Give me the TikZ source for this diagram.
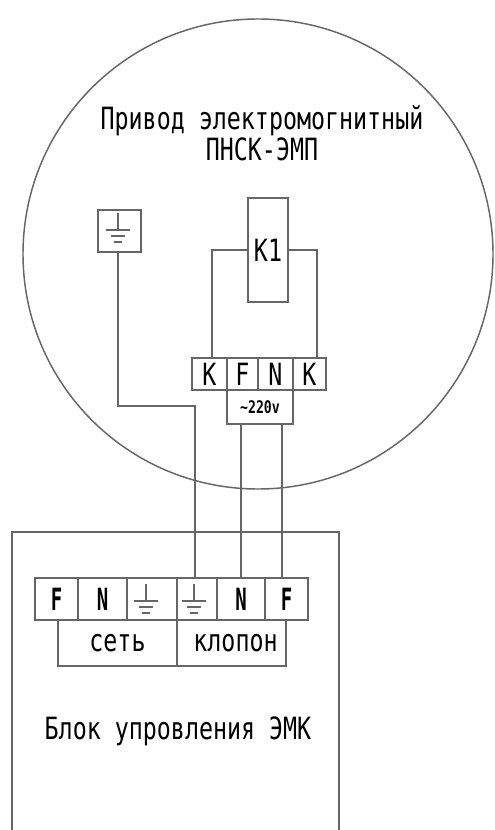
\documentclass[tikz,border=0pt]{standalone}
\usepackage{fontspec}
\newfontfamily\cadfont[FakeStretch=.76]{DejaVu Sans Mono}
\newfontfamily\cadnarrow[FakeStretch=.62]{DejaVu Sans Mono}
\newcommand{\px}{.75pt}
\tikzset{
    wire/.style={draw=black!60, line width=1.1pt},
    termbox/.style={wire, inner sep=0pt, outer sep=0pt, font=\cadfont\fontsize{23}{24}\selectfont, text=black},
    caption/.style={inner sep=0pt, align=center, text=black, font=\cadfont\fontsize{23}{23}\selectfont},
    earth/.pic={
        \draw[wire] (0,-17) -- (0,0);
        \draw[wire] (-12,0) -- (12,0);
        \draw[wire] (-7,6) -- (7,6);
        \draw[wire] (-4,12) -- (4,12);
    }
}
\begin{document}
\begin{tikzpicture}[x=.75pt, y=-.75pt]
    \useasboundingbox (0,0) rectangle (494,830);
    % drive
    \draw[wire] (258,254) circle[radius=235];
    \node[caption] (drivetext) at (262,133.5) {Привод электромогнитный\\ПНСК-ЭМП};
    \node[termbox, minimum width=43*\px, minimum height=42*\px] (gndbox) at (119.5,231) {};
    \pic at (118,230) {earth};
    \node[termbox, minimum width=40*\px, minimum height=104*\px] (relay) at (268,250) {К1};
    \node[termbox, minimum width=35*\px, minimum height=32*\px] (pK) at (209.5,374) {К};
    \node[termbox, minimum width=31*\px, minimum height=32*\px] (pF) at (242.5,374) {F};
    \node[termbox, minimum width=35*\px, minimum height=32*\px] (pN) at (275.5,374) {N};
    \node[termbox, minimum width=33*\px, minimum height=32*\px] (pKb) at (309.5,374) {К};
    \node[termbox, minimum width=66*\px, minimum height=34*\px, font=\cadfont\bfseries\fontsize{13}{14}\selectfont] (mains) at (260,407) {\textasciitilde220v};
    \coordinate (wireK) at (212,358);
    \coordinate (wireKb) at (317,358);
    \draw[wire] (relay.west) -| (wireK);
    \draw[wire] (relay.east) -| (wireKb);
    % control unit
    \draw[wire] (12,830) |- (339,532) -- (339,830);
    \node[termbox, minimum width=43*\px, minimum height=42*\px, font=\cadnarrow\bfseries\fontsize{23}{24}\selectfont] (tF) at (56.5,599) {F};
    \node[termbox, minimum width=49*\px, minimum height=42*\px, font=\cadnarrow\bfseries\fontsize{23}{24}\selectfont] (tN) at (102.5,599) {N};
    \node[termbox, minimum width=50*\px, minimum height=42*\px] (tPEa) at (152,599) {};
    \node[termbox, minimum width=40*\px, minimum height=42*\px] (tPEb) at (197,599) {};
    \node[termbox, minimum width=48*\px, minimum height=42*\px, font=\cadnarrow\bfseries\fontsize{23}{24}\selectfont] (tNb) at (241,599) {N};
    \node[termbox, minimum width=43*\px, minimum height=42*\px, font=\cadnarrow\bfseries\fontsize{23}{24}\selectfont] (tFb) at (286.5,599) {F};
    \pic at (146,601) {earth};
    \pic at (194,601) {earth};
    \node[termbox, minimum width=119*\px, minimum height=46*\px] (net) at (117.5,643) {сеть};
    \node[termbox, minimum width=109*\px, minimum height=46*\px] (valve) at (231.5,643) {\hspace{6pt}клопон};
    \node[caption] (unittext) at (178,731) {Блок упровления ЭМК};
    % wires between the two
    \coordinate (gndbend) at (118,406);
    \coordinate (gndin) at (195,578);
    \coordinate (mainsF) at (282,424);
    \coordinate (inF) at (282,578);
    \draw[wire] (gndbox.south -| gndbend) -- (gndbend) -| (gndin);
    \draw[wire] (mains.south -| tNb.north) -- (tNb.north);
    \draw[wire] (mainsF) -- (inF);
\end{tikzpicture}
\end{document}
